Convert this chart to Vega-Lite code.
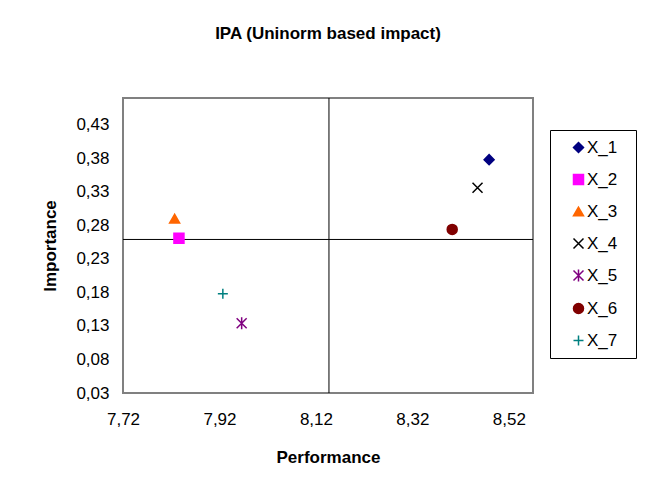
{
  "$schema": "https://vega.github.io/schema/vega-lite/v6.json",
  "width": 410,
  "height": 295,
  "autosize": {"type": "none"},
  "padding": {"left": 123, "top": 98, "right": 112, "bottom": 97},
  "background": "white",
  "title": {
    "text": "IPA (Uninorm based impact)",
    "font": "Liberation Sans",
    "fontSize": 17,
    "fontWeight": "bold",
    "color": "black",
    "offset": 55,
    "anchor": "middle"
  },
  "config": {
    "view": {"stroke": "#808080", "strokeWidth": 2},
    "font": "Liberation Sans",
    "axis": {
      "grid": false,
      "ticks": false,
      "domain": false,
      "labelOverlap": false,
      "labelFlush": false,
      "labelFont": "Liberation Sans",
      "labelFontSize": 17,
      "labelColor": "black",
      "titleFont": "Liberation Sans",
      "titleFontSize": 17,
      "titleFontWeight": "bold",
      "titleColor": "black"
    }
  },
  "datasets": {
    "points": [
      {"series": "X_1", "performance": 8.479, "importance": 0.378},
      {"series": "X_2", "performance": 7.836, "importance": 0.261},
      {"series": "X_3", "performance": 7.827, "importance": 0.29},
      {"series": "X_4", "performance": 8.455, "importance": 0.336},
      {"series": "X_5", "performance": 7.966, "importance": 0.134},
      {"series": "X_6", "performance": 8.4025, "importance": 0.274},
      {"series": "X_7", "performance": 7.927, "importance": 0.178}
    ],
    "vref": [{"performance": 8.147}],
    "href": [{"importance": 0.259}]
  },
  "layer": [
    {
      "data": {"name": "vref"},
      "mark": {"type": "rule", "color": "black", "strokeWidth": 1},
      "encoding": {
        "x": {
          "field": "performance",
          "type": "quantitative",
          "scale": {"domain": [7.72, 8.57], "nice": false, "zero": false},
          "axis": {
            "title": "Performance",
            "values": [7.72, 7.92, 8.12, 8.32, 8.52],
            "labelExpr": "replace(format(datum.value, '.2f'), '.', ',')",
            "labelOverlap": false,
            "labelPadding": 18,
            "titlePadding": 22
          }
        }
      }
    },
    {
      "data": {"name": "href"},
      "mark": {"type": "rule", "color": "black", "strokeWidth": 1},
      "encoding": {
        "y": {
          "field": "importance",
          "type": "quantitative",
          "scale": {"domain": [0.03, 0.47], "nice": false, "zero": false},
          "axis": {
            "title": "Importance",
            "values": [0.03, 0.08, 0.13, 0.18, 0.23, 0.28, 0.33, 0.38, 0.43],
            "labelExpr": "replace(format(datum.value, '.2f'), '.', ',')",
            "labelOverlap": false,
            "labelBound": false,
            "labelPadding": 14,
            "titlePadding": 16
          }
        }
      }
    },
    {
      "data": {"name": "points"},
      "mark": {"type": "point", "opacity": 1, "strokeWidth": 1.5},
      "encoding": {
        "x": {
          "field": "performance",
          "type": "quantitative",
          "scale": {"domain": [7.72, 8.57], "nice": false, "zero": false},
          "axis": {
            "title": "Performance",
            "values": [7.72, 7.92, 8.12, 8.32, 8.52],
            "labelExpr": "replace(format(datum.value, '.2f'), '.', ',')",
            "labelOverlap": false,
            "labelPadding": 18,
            "titlePadding": 22
          }
        },
        "y": {
          "field": "importance",
          "type": "quantitative",
          "scale": {"domain": [0.03, 0.47], "nice": false, "zero": false},
          "axis": {
            "title": "Importance",
            "values": [0.03, 0.08, 0.13, 0.18, 0.23, 0.28, 0.33, 0.38, 0.43],
            "labelExpr": "replace(format(datum.value, '.2f'), '.', ',')",
            "labelOverlap": false,
            "labelBound": false,
            "labelPadding": 14,
            "titlePadding": 16
          }
        },
        "fill": {
          "field": "series",
          "type": "nominal",
          "scale": {
            "domain": ["X_1", "X_2", "X_3", "X_4", "X_5", "X_6", "X_7"],
            "range": ["#000080", "#FF00FF", "#FF6600", "#000000", "#800080", "#800000", "#008080"]
          },
          "legend": {
            "title": " ",
            "titleOrient": "right",
            "titlePadding": 10,
            "titleFontSize": 17,
            "orient": "none",
            "legendX": 427,
            "legendY": 32,
            "strokeColor": "black",
            "fillColor": "white",
            "padding": 9,
            "rowPadding": 14,
            "symbolOffset": 11,
            "labelOffset": 0,
            "labelFont": "Liberation Sans",
            "labelFontSize": 17,
            "labelColor": "black",
            "symbolStrokeWidth": 1.5,
            "symbolOpacity": 1
          }
        },
        "stroke": {
          "field": "series",
          "type": "nominal",
          "scale": {
            "domain": ["X_1", "X_2", "X_3", "X_4", "X_5", "X_6", "X_7"],
            "range": ["#000080", "#FF00FF", "#FF6600", "#000000", "#800080", "#800000", "#008080"]
          }
        },
        "shape": {
          "field": "series",
          "type": "nominal",
          "scale": {
            "domain": ["X_1", "X_2", "X_3", "X_4", "X_5", "X_6", "X_7"],
            "range": ["diamond", "square", "triangle-up", "M-1,-1L1,1M-1,1L1,-1", "M-1,-1L1,1M-1,1L1,-1M0,-1.2L0,1.2", "circle", "M-1,0L1,0M0,-1L0,1"]
          }
        },
        "size": {"value": 100}
      }
    }
  ]
}
